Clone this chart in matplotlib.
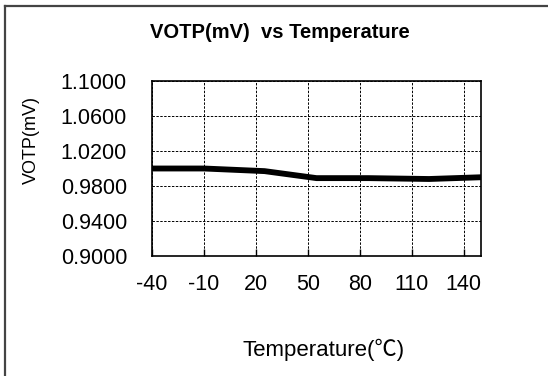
import matplotlib
matplotlib.use('Agg')
import matplotlib.pyplot as plt
from matplotlib.lines import Line2D

plt.rcParams['font.family'] = ['Liberation Sans', 'Noto Sans CJK SC', 'DejaVu Sans']
plt.rcParams['axes.unicode_minus'] = False

temperature = [-40, -10, 25, 55, 85, 120, 150]
votp = [1.000, 1.000, 0.997, 0.989, 0.989, 0.988, 0.990]
xticks = [-40, -10, 20, 50, 80, 110, 140]
yticks = [0.90, 0.94, 0.98, 1.02, 1.06, 1.10]

W, H = 548, 376
fig = plt.figure(figsize=(W / 100, H / 100), dpi=100)
ax = fig.add_axes([152 / W, 1 - 256 / H, (481 - 152) / W, (256 - 81) / H])

ax.plot(temperature, votp, color='black', lw=4.2, solid_capstyle='butt')

ax.set_xlim(-40, 150)
ax.set_ylim(0.90, 1.10)
ax.set_xticks(xticks)
ax.set_yticks(yticks)
ax.set_yticklabels([f'{v:.4f}' for v in yticks])
ax.grid(True, color='black', ls=(0, (2.5, 1.5)), lw=0.7)
ax.tick_params(axis='x', direction='in', length=5, width=1, pad=13, labelsize=15.5)
ax.tick_params(axis='y', length=0, pad=18, labelsize=15.5)
for s in ax.spines.values():
    s.set_linewidth(1.2)

fig.text(280 / W, 1 - 33 / H, 'VOTP(mV)  vs Temperature', ha='center', va='center',
         fontsize=14.5, fontweight='bold')
fig.text(31 / W, 1 - 140 / H, 'VOTP(mV)', rotation=90, ha='center', va='center', fontsize=13)
fig.text(324 / W, 1 - 350 / H, 'Temperature(℃)', ha='center', va='center', fontsize=16)

# outer chart frame (only top and left edges visible)
fig.add_artist(Line2D([4.5 / W, 1], [1 - 5.5 / H] * 2, color='#444444', lw=1.6))
fig.add_artist(Line2D([4.5 / W] * 2, [0, 1 - 5.5 / H], color='#444444', lw=1.6))

fig.savefig('out.png', dpi=100)
